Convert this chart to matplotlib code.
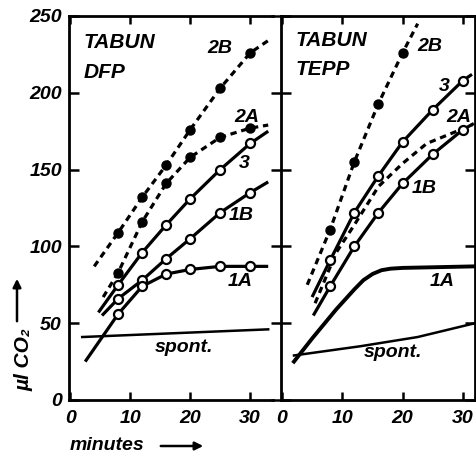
import matplotlib
matplotlib.use('Agg')
import matplotlib.pyplot as plt

plt.rcParams['font.family'] = ['Liberation Sans', 'DejaVu Sans']
plt.rcParams['font.weight'] = 'bold'
plt.rcParams['font.style'] = 'italic'
plt.rcParams['font.size'] = 14

# sampling times (minutes)
minutes = [8, 12, 16, 20, 25, 30]

# Tabun + DFP
dfp_2b = [109, 132, 153, 176, 203, 226]
dfp_2a = [83, 116, 141, 158, 171, 177]
dfp_3 = [75, 96, 114, 131, 150, 167]
dfp_1b = [66, 78, 92, 105, 122, 135]
dfp_1a = [56, 74, 82, 85, 87, 87]
# where the drawn curves begin / end beyond the measured points
dfp_2b_ends = [(4, 87), (33, 234)]
dfp_2a_ends = [(5.5, 67), (33, 179)]
dfp_3_ends = [(4.7, 57), (33, 175)]
dfp_1b_ends = [(5.3, 55), (33, 142)]
dfp_1a_ends = [(2.5, 25), (33, 87)]
dfp_spont_t = [2, 33]
dfp_spont = [41, 46]

# Tabun + TEPP
tepp_2b_t = [8, 12, 16, 20]
tepp_2b = [111, 155, 193, 226]
tepp_3 = [91, 122, 146, 168, 189, 208]
tepp_1b = [74, 100, 122, 141, 160, 176]
tepp_2b_ends = [(4.2, 75), (22.5, 245)]
tepp_3_ends = [(5.0, 67), (31.5, 212)]
tepp_1b_ends = [(5.2, 55), (31.8, 180)]
tepp_2a_t = [5.5, 9, 12, 16, 20, 24, 31.5]
tepp_2a = [63, 96, 114, 139, 154, 167, 179]
tepp_1a_t = [2, 5, 9, 12, 13.5, 15, 16.5, 18, 20, 32]
tepp_1a = [25, 40, 59, 72, 78, 82, 84.5, 85.5, 86, 87]
tepp_spont_t = [2, 13, 22.5, 32]
tepp_spont = [29, 35, 41, 50]

yticks = [0, 50, 100, 150, 200, 250]
xticks = [0, 10, 20, 30]

LW = 2.3
DASH = (0, (2.0, 1.5))


def curve(ax, t, v, ends, dashed=False, filled=False):
    xs = [ends[0][0]] + list(t) + [ends[1][0]]
    ys = [ends[0][1]] + list(v) + [ends[1][1]]
    ls = DASH if dashed else '-'
    ax.plot(xs, ys, color='k', lw=LW, ls=ls, solid_capstyle='butt', zorder=2)
    if filled:
        ax.plot(t, v, 'o', color='k', ms=6.5, zorder=3)
    else:
        ax.plot(t, v, 'o', mfc='white', mec='k', mew=1.6, ms=6.5, zorder=3)


def style(ax, xlim):
    ax.set_xlim(*xlim)
    ax.set_ylim(0, 250)
    ax.set_xticks(xticks)
    ax.set_yticks(yticks)
    for s in ax.spines.values():
        s.set_linewidth(2.0)
    ax.spines['right'].set_visible(False)
    ax.tick_params(axis='x', direction='in', length=6, width=1.8,
                   top=True, bottom=True, pad=7)


fig = plt.figure(figsize=(4.76, 4.53), dpi=100)
ax1 = fig.add_axes([69 / 476, 53 / 453, (273 - 69) / 476, 384 / 453])
ax2 = fig.add_axes([281 / 476, 53 / 453, (475 - 281) / 476, 384 / 453])

# left panel: DFP
style(ax1, (-0.2, 33.8))
ax1.tick_params(axis='y', direction='in', length=7, width=1.8,
                left=True, right=False, pad=5)
curve(ax1, minutes, dfp_2b, dfp_2b_ends, dashed=True, filled=True)
curve(ax1, minutes, dfp_2a, dfp_2a_ends, dashed=True, filled=True)
curve(ax1, minutes, dfp_3, dfp_3_ends)
curve(ax1, minutes, dfp_1b, dfp_1b_ends)
curve(ax1, minutes, dfp_1a, dfp_1a_ends)
ax1.plot(dfp_spont_t, dfp_spont, color='k', lw=1.8)

ax1.text(2.2, 233, 'TABUN', ha='left', va='center', fontsize=15)
ax1.text(2.2, 213, 'DFP', ha='left', va='center', fontsize=15)
ax1.text(25.0, 229, '2B', ha='center', va='center')
ax1.text(29.4, 184, '2A', ha='center', va='center')
ax1.text(29.0, 154, '3', ha='center', va='center')
ax1.text(28.5, 120, '1B', ha='center', va='center')
ax1.text(28.3, 77, '1A', ha='center', va='center')
ax1.text(19.0, 34, 'spont.', ha='center', va='center')

# right panel: TEPP
style(ax2, (-0.15, 32.0))
ax2.tick_params(axis='y', direction='inout', length=15, width=1.8,
                left=True, right=True, labelleft=False)
ax2.spines['right'].set_visible(True)
curve(ax2, tepp_2b_t, tepp_2b, tepp_2b_ends, dashed=True, filled=True)
curve(ax2, minutes, tepp_3, tepp_3_ends)
curve(ax2, minutes, tepp_1b, tepp_1b_ends)
ax2.plot(tepp_2a_t, tepp_2a, color='k', lw=LW, ls=DASH)
ax2.plot(tepp_1a_t, tepp_1a, color='k', lw=2.8)
ax2.plot(tepp_spont_t, tepp_spont, color='k', lw=1.8)

ax2.text(2.2, 234, 'TABUN', ha='left', va='center', fontsize=15)
ax2.text(2.2, 215, 'TEPP', ha='left', va='center', fontsize=15)
ax2.text(24.5, 230, '2B', ha='center', va='center')
ax2.text(26.9, 204, '3', ha='center', va='center')
ax2.text(29.4, 184, '2A', ha='center', va='center')
ax2.text(23.5, 138, '1B', ha='center', va='center')
ax2.text(26.5, 77, '1A', ha='center', va='center')
ax2.text(18.4, 31, 'spont.', ha='center', va='center')

# axis captions with arrows
fig.text(70 / 476, 8 / 453, 'minutes', ha='left', va='center')
ax1.annotate('', xy=(206, 7), xytext=(158, 7), xycoords='figure pixels',
             textcoords='figure pixels',
             arrowprops=dict(arrowstyle='-|>', lw=1.8, color='k', mutation_scale=12))
fig.text(24 / 476, (453 - 360) / 453, 'µl CO₂', rotation=90,
         ha='center', va='center', fontsize=15)
ax1.annotate('', xy=(17, 453 - 276), xytext=(17, 453 - 324), xycoords='figure pixels',
             textcoords='figure pixels',
             arrowprops=dict(arrowstyle='-|>', lw=1.8, color='k', mutation_scale=12))

fig.savefig('out.png', dpi=100)
